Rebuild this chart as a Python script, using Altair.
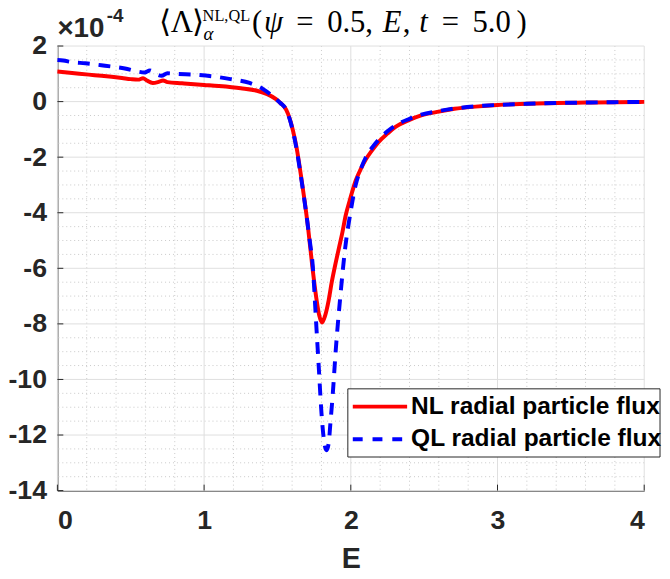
import altair as alt
import pandas as pd

# ---- data (flux values in units of 1e-4) ----
E_nl = [0.00, 0.10, 0.214, 0.30, 0.44, 0.50, 0.55, 0.584, 0.61, 0.65, 0.69, 0.72, 0.75,
        0.85, 1.00, 1.10, 1.25, 1.36, 1.43, 1.49, 1.52, 1.56, 1.584, 1.606, 1.63, 1.66,
        1.685, 1.71, 1.737, 1.763, 1.785, 1.804, 1.825, 1.849, 1.87, 1.893, 1.92, 1.943,
        1.965, 1.993, 2.033, 2.07, 2.10, 2.15, 2.19, 2.25, 2.30, 2.40, 2.48, 2.60, 2.707,
        2.85, 3.00, 3.20, 3.40, 3.60, 3.80, 4.00]
nl = [1.08, 1.03, 0.97, 0.93, 0.85, 0.81, 0.79, 0.84, 0.76, 0.67, 0.71, 0.76, 0.70,
      0.66, 0.60, 0.56, 0.48, 0.39, 0.27, 0.09, -0.05, -0.30, -0.62, -1.05, -1.65, -2.65,
      -3.57, -4.6, -5.9, -7.0, -7.7, -7.95, -7.7, -7.15, -6.5, -5.9, -5.25, -4.7,
      -4.1, -3.55, -2.85, -2.4, -2.1, -1.72, -1.45, -1.15, -0.93, -0.66, -0.50, -0.36, -0.26,
      -0.18, -0.12, -0.08, -0.05, -0.035, -0.02, -0.01]

E_ql = [0.00, 0.04, 0.10, 0.19, 0.325, 0.46, 0.55, 0.594, 0.63, 0.67, 0.71, 0.75, 0.80,
        0.955, 1.10, 1.18, 1.31, 1.40, 1.45, 1.49, 1.52, 1.56, 1.584, 1.606, 1.63, 1.66,
        1.685, 1.72, 1.741, 1.763, 1.781, 1.80, 1.82, 1.835, 1.849, 1.862, 1.876, 1.898,
        1.927, 1.961, 2.00, 2.033, 2.07, 2.10, 2.15, 2.19, 2.25, 2.30, 2.40, 2.48, 2.60,
        2.707, 2.85, 3.00, 3.20, 3.40, 3.60, 3.80, 4.00]
ql = [1.50, 1.48, 1.42, 1.38, 1.29, 1.19, 1.08, 1.05, 1.12, 1.00, 0.93, 1.02, 1.00,
      0.96, 0.88, 0.81, 0.67, 0.46, 0.27, 0.09, -0.05, -0.30, -0.64, -1.08, -1.70, -2.70,
      -3.60, -5.0, -5.93, -7.9, -9.5, -11.2, -12.3, -12.55, -12.3, -11.5, -10.6, -8.9,
      -7.1, -5.3, -3.92, -3.0, -2.4, -2.03, -1.62, -1.37, -1.07, -0.87, -0.62, -0.47, -0.34,
      -0.25, -0.17, -0.12, -0.08, -0.05, -0.035, -0.02, -0.01]

x_major = [0, 1, 2, 3, 4]
y_major = [2, 0, -2, -4, -6, -8, -10, -12, -14]
x_minor = [round(0.2 * i, 1) for i in range(1, 20) if i % 5 != 0]
y_minor = [round(-14 + 0.5 * i, 1) for i in range(1, 32) if i % 4 != 0]

legend_labels = ["NL radial particle flux", "QL radial particle flux"]

W, H = 594, 450
AX = "#262626"
xs = alt.Scale(domain=[0, 4], nice=False, zero=False)
ys = alt.Scale(domain=[-14, 2], nice=False, zero=False)
lab_font = "Liberation Sans"

XA = alt.Axis(values=x_major, labelExpr="'' + datum.value", labelFont=lab_font,
              labelFontWeight="bold", labelFontSize=27, labelColor=AX, labelPadding=17,
              ticks=False, domain=True, domainColor=AX, domainWidth=1, grid=False,
              title="E", titleFont=lab_font, titleFontWeight="bold", titleFontSize=29,
              titleColor=AX, titlePadding=12)
YA = alt.Axis(values=y_major, labelExpr="'' + datum.value", labelFont=lab_font,
              labelFontWeight="bold", labelFontSize=27, labelColor=AX, labelPadding=11,
              ticks=False, domain=True, domainColor=AX, domainWidth=1, grid=False,
              title="")

one = pd.DataFrame({"k": [0]})

# minor grid
gx_min = alt.Chart(pd.DataFrame({"x": x_minor})).mark_rule(
    color="#c8c8c8", strokeWidth=1, strokeDash=[1, 3]).encode(
    x=alt.X("x:Q", scale=xs, axis=XA))
gy_min = alt.Chart(pd.DataFrame({"y": y_minor})).mark_rule(
    color="#c8c8c8", strokeWidth=1, strokeDash=[1, 3]).encode(
    y=alt.Y("y:Q", scale=ys, axis=YA))
# major grid
gx = alt.Chart(pd.DataFrame({"x": x_major})).mark_rule(
    color="#dedede", strokeWidth=1).encode(x=alt.X("x:Q", scale=xs, axis=XA))
gy = alt.Chart(pd.DataFrame({"y": y_major})).mark_rule(
    color="#dedede", strokeWidth=1).encode(y=alt.Y("y:Q", scale=ys, axis=YA))

df_nl = pd.DataFrame({"x": E_nl, "y": nl})
df_ql = pd.DataFrame({"x": E_ql, "y": ql})

line_nl = alt.Chart(df_nl).mark_line(color="#ff0000", strokeWidth=4,
                                     interpolate="monotone").encode(
    x=alt.X("x:Q", scale=xs, axis=XA), y=alt.Y("y:Q", scale=ys, axis=YA))
line_ql = alt.Chart(df_ql).mark_line(color="#0000ff", strokeWidth=4, strokeDash=[12, 9],
                                     interpolate="monotone").encode(
    x=alt.X("x:Q", scale=xs, axis=XA), y=alt.Y("y:Q", scale=ys, axis=YA))

# inward ticks
tx = alt.Chart(pd.DataFrame({"x": x_major})).mark_rule(color=AX, strokeWidth=1).encode(
    x=alt.X("x:Q", scale=xs, axis=XA), y=alt.value(H), y2=alt.value(H - 6))
ty = alt.Chart(pd.DataFrame({"y": y_major})).mark_rule(color=AX, strokeWidth=1).encode(
    y=alt.Y("y:Q", scale=ys, axis=YA), x=alt.value(0), x2=alt.value(6))


def txt(s, x, y, size, font="Liberation Serif", style="normal", weight="normal",
        align="left", baseline="alphabetic", color="#000000"):
    return alt.Chart(one).mark_text(text=s, font=font, fontSize=size, fontStyle=style,
                                    fontWeight=weight, align=align, baseline=baseline,
                                    color=color).encode(x=alt.value(x), y=alt.value(y))


OX, OY = 58, 43  # page position of plot origin
title_layers = []
by = 29 - OY
for s, cx, st in [("⟨", 167, "normal"), ("Λ", 184, "normal"), ("⟩", 200, "normal"),
                  ("(", 260.2, "normal"), ("ψ", 276.8, "italic"), ("=", 308.6, "normal"),
                  ("0.5", 350.4, "normal"), (",", 373.5, "normal"), ("E", 396.9, "italic"),
                  (",", 411.5, "normal"), ("t", 428.7, "italic"), ("=", 455.8, "normal"),
                  ("5.0", 497.6, "normal"), (")", 528, "normal")]:
    title_layers.append(txt(s, cx - OX, by, 31, style=st, align="center"))
title_layers.append(txt("NL,QL", 205 - OX, 18 - OY, 16.5))
title_layers.append(txt("α", 206 - OX, 37 - OY, 19, style="italic"))
title_layers.append(txt("×10", 58 - OX, 34 - OY, 28, font=lab_font, weight="bold", color=AX))
title_layers.append(txt("-4", 108 - OX, 19 - OY, 19, font=lab_font, weight="bold", color=AX))

# legend
lx0, lx1, ly0, ly1 = 352 - OX, 668 - OX, 390 - OY, 459 - OY
leg_box = alt.Chart(one).mark_rect(fill="white", stroke=AX, strokeWidth=1).encode(
    x=alt.value(lx0), x2=alt.value(lx1), y=alt.value(ly0), y2=alt.value(ly1))
r1, r2 = 408 - OY, 441 - OY
leg_l1 = alt.Chart(one).mark_rule(color="#ff0000", strokeWidth=4).encode(
    x=alt.value(357 - OX), x2=alt.value(412 - OX), y=alt.value(r1))
leg_l2 = alt.Chart(one).mark_rule(color="#0000ff", strokeWidth=4, strokeDash=[10, 10]).encode(
    x=alt.value(357 - OX), x2=alt.value(412 - OX), y=alt.value(r2))
leg_t1 = txt(legend_labels[0], 416 - OX, r1, 24.8, font=lab_font, weight="bold", baseline="middle")
leg_t2 = txt(legend_labels[1], 416 - OX, r2, 24.8, font=lab_font, weight="bold", baseline="middle")

chart = alt.layer(
    gx_min, gy_min, gx, gy, line_nl, line_ql, tx, ty,
    leg_box, leg_l1, leg_l2, leg_t1, leg_t2, *title_layers
).properties(
    width=W, height=H,
    autosize=alt.AutoSizeParams(type="none"),
    padding={"left": 50, "top": 35, "right": 18, "bottom": 86},
    background="white",
).configure_view(stroke=None)

chart.save("out.html", embed_options={"renderer": "svg", "actions": False})
